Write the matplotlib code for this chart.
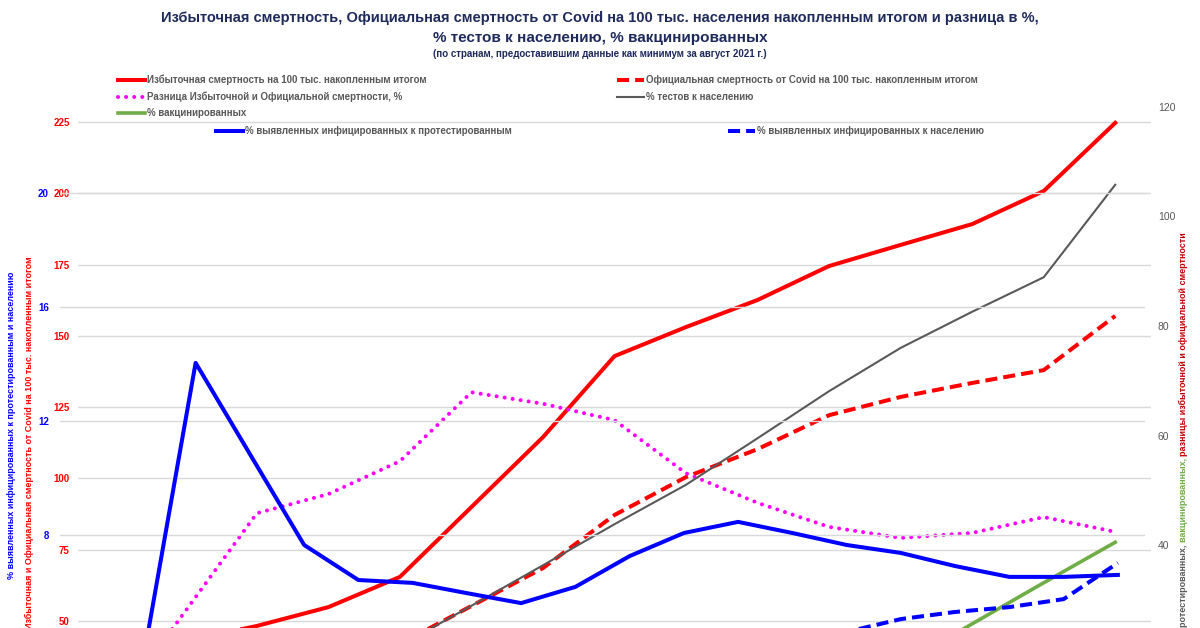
import matplotlib
matplotlib.use("Agg")
import matplotlib.pyplot as plt
from matplotlib.lines import Line2D

plt.rcParams['font.family'] = ['Liberation Sans', 'DejaVu Sans']

W, H = 1200, 628

# chart 1 (red axis + right axis), 15 points
cat_a = list(range(1, 16))
excess = [38, 43, 48.3, 54.9, 65.5, 90.0, 114.5, 142.9, 153.1, 162.6, 174.5, 181.9, 189.2, 200.8, 224.7]
official = [2, 8, 17, 28, 42, 55.3, 68.6, 87.2, 100.5, 110.3, 122.2, 128.6, 133.5, 138.0, 157.0]
diff_pct = [10, 27.9, 45.8, 49.3, 55.3, 67.9, 65.8, 62.8, 53.1, 47.7, 43.3, 41.3, 42.2, 45.1, 42.4]
tests_pct = [2, 5, 9, 15, 21.6, 28.9, 36.3, 43.8, 51.0, 59.5, 68.1, 76.0, 82.6, 88.9, 105.8]
vacc_pct = [0, 0, 0, 0, 0, 0, 0, 0, 2, 5, 11, 18.1, 25.6, 33.1, 40.5]

# chart 2 (blue axis), 20 points
cat_b = list(range(1, 21))
pos_to_tested = [2.0, 3.26, 14.04, 10.84, 7.65, 6.42, 6.32, 5.96, 5.61, 6.18,
                 7.26, 8.07, 8.46, 8.07, 7.65, 7.37, 6.91, 6.53, 6.53, 6.60]
pos_to_pop = [0.5, 0.8, 1.0, 1.3, 1.5, 1.8, 2.0, 2.3, 2.6, 2.9,
              3.2, 3.5, 3.8, 4.1, 4.6, 5.05, 5.30, 5.47, 5.75, 7.02]

red_ticks = [50, 75, 100, 125, 150, 175, 200, 225]
right_ticks = [40, 60, 80, 100, 120]
blue_ticks = [8, 12, 16, 20]

RED = '#ff0000'
BLUE = '#0000ff'
MAG = '#ff00ff'
GRAY = '#595959'
GREEN = '#70ad47'
NAVY = '#1f2a5c'
GRID = '#d9d9d9'
DOTS = (0.01, 2)
DASH = (3, 1.5)

TOP, BOT = 100, 800  # plot area in pixels (bottom is below the visible picture)


def fpt(x, y):
    return x / W, 1 - y / H


def ax_rect(left, right):
    return [left / W, 1 - BOT / H, (right - left) / W, (BOT - TOP) / H]


def ylim_from(v_ref, p_ref, per_px):
    return v_ref - (BOT - p_ref) * per_px, v_ref + (p_ref - TOP) * per_px


def clean(ax):
    for s in ax.spines.values():
        s.set_visible(False)
    ax.set_xticks([])


fig = plt.figure(figsize=(12, 6.28), dpi=100)

ax1 = fig.add_axes(ax_rect(78, 1151))
ax2 = ax1.twinx()
ax3 = fig.add_axes(ax_rect(60, 1145))
ax3.patch.set_alpha(0)

for ax in (ax1, ax2):
    ax.set_xlim(0.5, 15.5)
    clean(ax)
ax3.set_xlim(0.5, 20.5)
clean(ax3)

ax1.set_ylim(*ylim_from(200, 193.3, 25 / 71.3))
ax2.set_ylim(*ylim_from(120, 107, 20 / 109.5))
ax3.set_ylim(*ylim_from(20, 193, 4 / 114))

ax1.set_yticks(red_ticks)
ax2.set_yticks(right_ticks)
ax3.set_yticks(blue_ticks)

ax1.tick_params(axis='y', length=0, pad=6, labelcolor=RED, labelsize=7)
ax2.tick_params(axis='y', length=0, pad=5, labelcolor=GRAY, labelsize=7.5)
ax3.tick_params(axis='y', length=0, pad=8, labelcolor=BLUE, labelsize=7)
for lab in ax1.get_yticklabels() + ax3.get_yticklabels():
    lab.set_fontweight('bold')

ax1.grid(axis='y', color=GRID, lw=1)
ax1.set_axisbelow(True)
ax3.grid(axis='y', color=GRID, lw=1)
ax3.set_axisbelow(True)

# chart 1 lines
ax1.plot(cat_a, excess, color=RED, lw=2.9, solid_joinstyle='round')
ax1.plot(cat_a, official, color=RED, lw=2.9, dashes=DASH)
ax2.plot(cat_a, diff_pct, color=MAG, lw=2.9, dashes=DOTS, dash_capstyle='round')
ax2.plot(cat_a, tests_pct, color=GRAY, lw=1.5)
ax2.plot(cat_a, vacc_pct, color=GREEN, lw=2.6)

# chart 2 lines
ax3.plot(cat_b, pos_to_tested, color=BLUE, lw=2.9, solid_joinstyle='round')
ax3.plot(cat_b, pos_to_pop, color=BLUE, lw=2.9, dashes=DASH)

# titles
fig.text(*fpt(600, 18), 'Избыточная смертность, Официальная смертность от Covid на 100 тыс. населения накопленным итогом и разница в %,',
         ha='center', va='center', fontsize=10.5, fontweight='bold', color=NAVY)
fig.text(*fpt(600, 38), '% тестов к населению, % вакцинированных',
         ha='center', va='center', fontsize=11, fontweight='bold', color=NAVY)
fig.text(*fpt(600, 54), '(по странам, предоставившим данные как минимум за август 2021 г.)',
         ha='center', va='center', fontsize=7, fontweight='bold', color=NAVY)

# legends
legend_items = [
    (118, 80, 'Избыточная смертность на 100 тыс. накопленным итогом', dict(color=RED, lw=2.9)),
    (617, 80, 'Официальная смертность от Covid на 100 тыс. накопленным итогом', dict(color=RED, lw=2.9, dashes=DASH)),
    (118, 97, 'Разница Избыточной и Официальной смертности, %', dict(color=MAG, lw=2.9, dashes=DOTS, dash_capstyle='round')),
    (617, 97, '% тестов к населению', dict(color=GRAY, lw=1.5)),
    (118, 113, '% вакцинированных', dict(color=GREEN, lw=2.6)),
    (216, 131, '% выявленных инфицированных к протестированным', dict(color=BLUE, lw=2.9)),
    (728, 131, '% выявленных инфицированных к населению', dict(color=BLUE, lw=2.9, dashes=DASH)),
]
for x0, y0, label, style in legend_items:
    xa, ya = fpt(x0, y0)
    xb, _ = fpt(x0 + 27, y0)
    fig.add_artist(Line2D([xa, xb], [ya, ya], transform=fig.transFigure, **style))
    fig.text(*fpt(x0 + 29, y0), label, ha='left', va='center', fontsize=7,
             fontweight='bold', color=GRAY)

# axis titles
fig.text(*fpt(12, 425), '% выявленных инфицированных к протестированным и населению',
         rotation=90, ha='center', va='center', fontsize=6.5, fontweight='bold', color=BLUE)
fig.text(*fpt(29, 256), 'Избыточная и Официальная смертность от Covid на 100 тыс. накопленным итогом',
         rotation=90, ha='center', va='top', fontsize=6.5, fontweight='bold', color=RED)

renderer = fig.canvas.get_renderer()
y_top = 232
for part, col in [('разницы избыточной и официальной смертности', '#c00000'),
                  ('вакцинированных, ', GREEN),
                  ('% протестированных, ', GRAY)]:
    t = fig.text(*fpt(1183, y_top), part, rotation=90, ha='center', va='top',
                 fontsize=6.5, fontweight='bold', color=col)
    y_top += t.get_window_extent(renderer).height

fig.savefig('out.png', dpi=100)
